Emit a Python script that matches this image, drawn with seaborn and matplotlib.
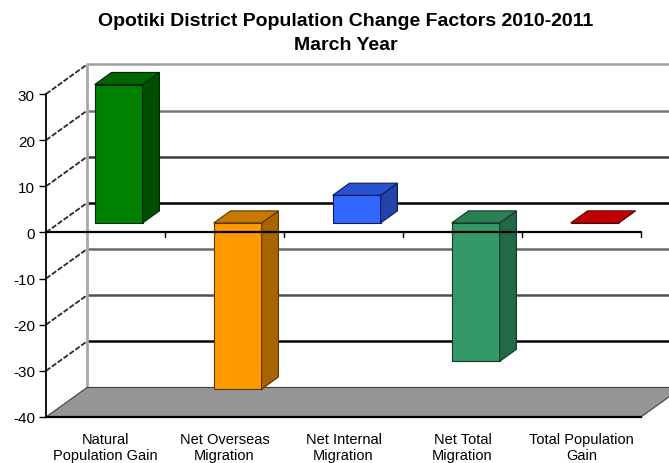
import numpy as np
import pandas as pd
import seaborn as sns
import matplotlib.pyplot as plt
import matplotlib.transforms as mtransforms
from matplotlib.patches import Polygon

# ---- data -------------------------------------------------------------
categories = ["Natural\nPopulation Gain", "Net Overseas\nMigration",
              "Net Internal\nMigration", "Net Total\nMigration",
              "Total Population\nGain"]
values = [30, -36, 6, -30, 0]
y_ticks = [-40, -30, -20, -10, 0, 10, 20, 30]
title_lines = ["Opotiki District Population Change Factors 2010-2011",
               "March Year"]

# ---- styling ----------------------------------------------------------
front_colors = ["#008000", "#FF9900", "#3366FF", "#339966", "#CC0000"]
side_colors = ["#004F00", "#A86400", "#2244AA", "#236848", "#800000"]
top_colors = ["#006400", "#C87800", "#2A52D0", "#2B7F55", "#C00000"]
edge_colors = ["#002800", "#5A3500", "#0A1A60", "#103A25", "#600000"]

sns.set_theme(style="white")
plt.rcParams["font.family"] = ["Liberation Sans", "DejaVu Sans"]
plt.rcParams["text.color"] = "black"
plt.rcParams["xtick.color"] = "black"
plt.rcParams["ytick.color"] = "black"

fig = plt.figure(figsize=(6.69, 4.64), dpi=100)
fig.patch.set_facecolor("white")
ax = fig.add_axes([46 / 669, 46 / 464, 595 / 669, 323 / 464])

ymin, ymax = y_ticks[0], y_ticks[-1]
xmin, xmax = -0.5, len(categories) - 0.5

# depth of the 3-D box in data units (x: categories, y: values)
WALL_DX, WALL_DY = 0.345, 6.4
BAR_FRONT, BAR_BACK = 0.32, 0.73
fx, fy = BAR_FRONT * WALL_DX, BAR_FRONT * WALL_DY
ddx, ddy = (BAR_BACK - BAR_FRONT) * WALL_DX, (BAR_BACK - BAR_FRONT) * WALL_DY

# ---- front faces of the bars -------------------------------------------
df = pd.DataFrame({"category": categories, "value": values})
sns.barplot(data=df, x="category", y="value", hue="category",
            palette=front_colors, saturation=1, width=0.403,
            legend=False, ax=ax, edgecolor="black", linewidth=0.8,
            zorder=3)

bar_shift = mtransforms.Affine2D().translate(fx, fy) + ax.transData
bars = sorted(ax.patches, key=lambda p: p.get_x())
for i, p in enumerate(bars):
    p.set_transform(bar_shift)
    p.set_clip_on(False)
    p.set_edgecolor(edge_colors[i])
    x0 = p.get_x()
    x1 = x0 + p.get_width()
    y0 = p.get_y()
    y1 = y0 + p.get_height()
    b, t = min(y0, y1), max(y0, y1)
    side = Polygon([(x1, b), (x1 + ddx, b + ddy), (x1 + ddx, t + ddy), (x1, t)],
                   closed=True, facecolor=side_colors[i],
                   edgecolor=edge_colors[i], linewidth=0.8,
                   transform=bar_shift, zorder=3, clip_on=False)
    top = Polygon([(x0, t), (x1, t), (x1 + ddx, t + ddy), (x0 + ddx, t + ddy)],
                  closed=True, facecolor=top_colors[i],
                  edgecolor=edge_colors[i], linewidth=0.8,
                  transform=bar_shift, zorder=3.1, clip_on=False)
    ax.add_patch(side)
    ax.add_patch(top)

# ---- back wall, side wall and floor -------------------------------------
grid_colors = {30: "#A0A0A0", 20: "#7A7A7A", 10: "#3A3A3A", 0: "#000000",
               -10: "#6A6A6A", -20: "#505050", -30: "#000000"}
for v in y_ticks[1:]:
    ax.plot([xmin + WALL_DX, xmax + WALL_DX + 1], [v + WALL_DY, v + WALL_DY],
            color=grid_colors[v], lw=1.8, zorder=1, clip_on=False,
            solid_capstyle="butt")
    ax.plot([xmin, xmin + WALL_DX], [v, v + WALL_DY], color="#2A2A2A",
            lw=1.3, ls=(0, (3, 1)), zorder=1, clip_on=False)
ax.plot([xmin + WALL_DX, xmin + WALL_DX], [ymin + WALL_DY, ymax + WALL_DY],
        color="#A8A8A8", lw=2, zorder=1, clip_on=False)

floor = Polygon([(xmin, ymin), (xmax, ymin), (xmax + WALL_DX, ymin + WALL_DY),
                 (xmin + WALL_DX, ymin + WALL_DY)], closed=True,
                facecolor="#969696", edgecolor="#404040", linewidth=0.8,
                zorder=1.5, clip_on=False)
ax.add_patch(floor)

# ---- category axis at zero ------------------------------------------------
ax.plot([xmin, xmax], [0, 0], color="black", lw=1.6, zorder=4, clip_on=False)
tick_len = 0.9
for k in range(len(categories)):
    ax.plot([k + 0.5, k + 0.5], [0, -tick_len], color="black", lw=1,
            zorder=4, clip_on=False)

# ---- axes cosmetics -------------------------------------------------------
ax.set_xlim(xmin, xmax)
ax.set_ylim(ymin, ymax)
ax.set_facecolor("none")
ax.set_xlabel("")
ax.set_ylabel("")
ax.set_yticks(y_ticks)
ax.set_yticklabels([str(v) for v in y_ticks])
ax.set_xticks(range(len(categories)))
ax.set_xticklabels(categories)
ax.tick_params(axis="y", direction="out", length=5, width=1, labelsize=11,
               pad=3, left=True)
ax.tick_params(axis="x", length=0, pad=11, labelsize=10.5)
for s in ["top", "right"]:
    ax.spines[s].set_visible(False)
ax.spines["left"].set_color("black")
ax.spines["left"].set_linewidth(1.3)
ax.spines["left"].set_zorder(4)
ax.spines["bottom"].set_color("black")
ax.spines["bottom"].set_linewidth(1.6)
ax.spines["bottom"].set_zorder(4)

fig.text(345.5 / 669, 1 - 22 / 464, title_lines[0], ha="center", va="center",
         fontsize=14, fontweight="bold")
fig.text(345.5 / 669, 1 - 46 / 464, title_lines[1], ha="center", va="center",
         fontsize=14, fontweight="bold")

fig.savefig("out.png", dpi=100, facecolor="white")
